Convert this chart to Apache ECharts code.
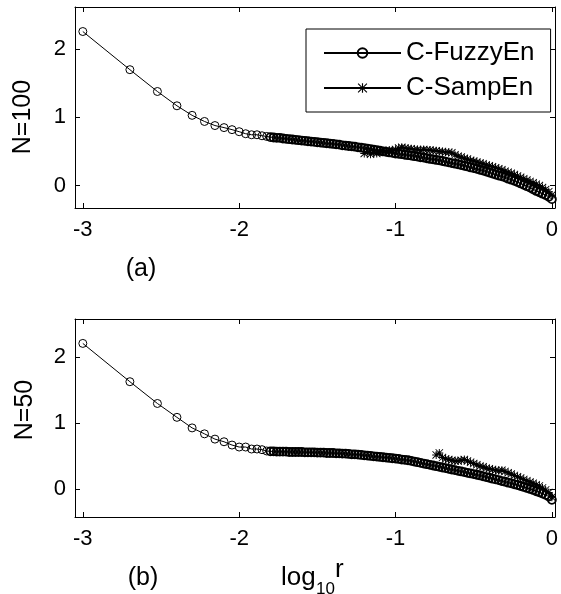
<!DOCTYPE html>
<html>
<head>
<meta charset="utf-8">
<script src="https://cdn.jsdelivr.net/npm/echarts@6/dist/echarts.min.js"></script>
<style>
  html, body { margin: 0; padding: 0; background: #fff; }
  #chart { width: 561px; height: 594px; }
</style>
</head>
<body>
<div id="chart"></div>
<script>
// r values of the first, well separated markers
const rHead = [0.001, 0.002, 0.003, 0.004, 0.005, 0.006, 0.007, 0.008, 0.009, 0.010, 0.011, 0.012, 0.013, 0.014, 0.015];

// log10 r where the markers merge into a band
const bandLogR = [
  -1.80, -1.78, -1.76, -1.74, -1.72, -1.70, -1.68, -1.66, -1.64, -1.62,
  -1.60, -1.58, -1.56, -1.54, -1.52, -1.50, -1.48, -1.46, -1.44, -1.42,
  -1.40, -1.38, -1.36, -1.34, -1.32, -1.30, -1.28, -1.26, -1.24, -1.22,
  -1.20, -1.18, -1.16, -1.14, -1.12, -1.10, -1.08, -1.06, -1.04, -1.02,
  -1.00, -0.98, -0.96, -0.94, -0.92, -0.90, -0.88, -0.86, -0.84, -0.82,
  -0.80, -0.78, -0.76, -0.74, -0.72, -0.70, -0.68, -0.66, -0.64, -0.62,
  -0.60, -0.58, -0.56, -0.54, -0.52, -0.50, -0.48, -0.46, -0.44, -0.42,
  -0.40, -0.38, -0.36, -0.34, -0.32, -0.30, -0.28, -0.26, -0.24, -0.22,
  -0.20, -0.18, -0.16, -0.14, -0.12, -0.10, -0.08, -0.06, -0.04, -0.02,
  0.00
];

// (a) N=100
const fuzzyHeadA = [2.26, 1.70, 1.38, 1.17, 1.03, 0.94, 0.88, 0.85, 0.82, 0.79, 0.76, 0.745, 0.745, 0.73, 0.72];
const fuzzyBandA = [
  0.71, 0.705, 0.70, 0.70, 0.69, 0.685, 0.68, 0.675, 0.67, 0.665,
  0.66, 0.655, 0.65, 0.645, 0.64, 0.635, 0.63, 0.625, 0.62, 0.615,
  0.61, 0.605, 0.60, 0.59, 0.585, 0.58, 0.575, 0.57, 0.56, 0.555,
  0.55, 0.54, 0.535, 0.525, 0.52, 0.51, 0.50, 0.495, 0.485, 0.48,
  0.47, 0.465, 0.46, 0.45, 0.445, 0.44, 0.43, 0.425, 0.415, 0.41,
  0.40, 0.39, 0.385, 0.375, 0.37, 0.36, 0.35, 0.34, 0.33, 0.32,
  0.31, 0.30, 0.29, 0.28, 0.265, 0.255, 0.245, 0.23, 0.22, 0.205,
  0.19, 0.175, 0.16, 0.145, 0.135, 0.12, 0.10, 0.085, 0.07, 0.05,
  0.03, 0.01, -0.01, -0.03, -0.055, -0.08, -0.10, -0.12, -0.14, -0.165,
  -0.20
];
const sampBandA = [
  0.47, 0.50, 0.46, 0.49, 0.47, 0.50, 0.51, 0.49, 0.52, 0.51,
  0.53, 0.55, 0.56, 0.55, 0.54, 0.54, 0.53, 0.53, 0.52, 0.53,
  0.52, 0.52, 0.51, 0.51, 0.50, 0.50, 0.49, 0.49, 0.48, 0.45,
  0.43, 0.42, 0.40, 0.39, 0.37, 0.36, 0.345, 0.33, 0.32, 0.30,
  0.29, 0.275, 0.26, 0.245, 0.23, 0.21, 0.195, 0.18, 0.16, 0.14,
  0.12, 0.10, 0.08, 0.06, 0.04, 0.02, 0.00, -0.03, -0.06, -0.09,
  -0.14
];

// (b) N=50
const fuzzyHeadB = [2.21, 1.63, 1.30, 1.09, 0.93, 0.84, 0.76, 0.72, 0.67, 0.64, 0.64, 0.61, 0.61, 0.60, 0.58];
const fuzzyBandB = [
  0.575, 0.575, 0.57, 0.57, 0.57, 0.57, 0.565, 0.565, 0.565, 0.565,
  0.565, 0.56, 0.56, 0.56, 0.56, 0.555, 0.555, 0.555, 0.55, 0.55,
  0.55, 0.545, 0.545, 0.54, 0.54, 0.535, 0.53, 0.53, 0.525, 0.52,
  0.515, 0.51, 0.505, 0.50, 0.495, 0.49, 0.485, 0.48, 0.475, 0.47,
  0.465, 0.46, 0.45, 0.445, 0.44, 0.43, 0.42, 0.41, 0.40, 0.39,
  0.38, 0.37, 0.36, 0.35, 0.34, 0.33, 0.32, 0.31, 0.30, 0.29,
  0.28, 0.27, 0.26, 0.25, 0.24, 0.23, 0.22, 0.21, 0.195, 0.185,
  0.175, 0.16, 0.15, 0.14, 0.125, 0.115, 0.10, 0.09, 0.075, 0.065,
  0.05, 0.035, 0.02, 0.005, -0.01, -0.03, -0.045, -0.065, -0.085, -0.11,
  -0.16
];
const sampBandB = [
  0.52, 0.55, 0.48, 0.46, 0.45, 0.44, 0.43, 0.43, 0.44, 0.45,
  0.43, 0.41, 0.39, 0.37, 0.35, 0.34, 0.32, 0.31, 0.30, 0.29,
  0.28, 0.29, 0.27, 0.25, 0.23, 0.21, 0.19, 0.17, 0.15, 0.13,
  0.11, 0.09, 0.07, 0.05, 0.02, -0.01, -0.05, -0.12
];

const xTicks = [-3, -2, -1, 0];
const yTicks = [0, 1, 2];

const STAR = 'path://M4.4 0L5.6 0L5.6 10L4.4 10Z M0 4.4L10 4.4L10 5.6L0 5.6Z M0.8 0L10 9.2L9.2 10L0 0.8Z M9.2 0L10 0.8L0.8 10L0 9.2Z';
const FONT = 'Liberation Sans, Arial, Helvetica, sans-serif';

function headPoints(vals) {
  return vals.map((v, i) => [Math.log10(rHead[i]), v]);
}
function bandPoints(vals, style) {
  const xs = bandLogR.slice(bandLogR.length - vals.length);
  return vals.map((v, i) => ({ value: [xs[i], v], itemStyle: style }));
}

function fuzzySeries(name, xi, yi, head, band) {
  return {
    name,
    type: 'line',
    xAxisIndex: xi,
    yAxisIndex: yi,
    data: headPoints(head).concat(bandPoints(band, { borderWidth: 1.8 })),
    symbol: 'circle',
    symbolSize: 8,
    showAllSymbol: true,
    lineStyle: { color: '#000', width: 1 },
    itemStyle: { color: 'transparent', borderColor: '#000', borderWidth: 1 },
    emphasis: { disabled: true }
  };
}
function sampSeries(name, xi, yi, band) {
  return {
    name,
    type: 'line',
    xAxisIndex: xi,
    yAxisIndex: yi,
    data: bandPoints(band, {}),
    symbol: STAR,
    symbolSize: 8,
    showAllSymbol: true,
    lineStyle: { color: '#000', width: 1.8 },
    itemStyle: { color: '#000' },
    emphasis: { disabled: true }
  };
}

function xAxisOf(gridIndex, position, showLabels) {
  return {
    type: 'value',
    gridIndex,
    position,
    min: -3.05,
    max: 0.02,
    axisLine: { show: true, onZero: false, lineStyle: { color: '#000', width: 1 } },
    axisTick: { show: true, inside: true, length: 5, customValues: xTicks, lineStyle: { color: '#000' } },
    axisLabel: { show: showLabels, customValues: xTicks, color: '#000', fontSize: 22, fontFamily: FONT, margin: 11 },
    splitLine: { show: false }
  };
}
function yAxisOf(gridIndex, position, min, max, showLabels) {
  return {
    type: 'value',
    gridIndex,
    position,
    min,
    max,
    axisLine: { show: true, onZero: false, lineStyle: { color: '#000', width: 1 } },
    axisTick: { show: true, inside: true, length: 5, customValues: yTicks, lineStyle: { color: '#000' } },
    axisLabel: { show: showLabels, customValues: yTicks, color: '#000', fontSize: 22, fontFamily: FONT, margin: 9 },
    splitLine: { show: false }
  };
}

const chart = echarts.init(document.getElementById('chart'), null, { renderer: 'canvas' });

const option = {
  animation: false,
  backgroundColor: '#fff',
  grid: [
    { left: 75, top: 7, width: 481, height: 201 },
    { left: 75, top: 319, width: 481, height: 198 }
  ],
  xAxis: [
    xAxisOf(0, 'bottom', true),
    xAxisOf(0, 'top', false),
    xAxisOf(1, 'bottom', true),
    xAxisOf(1, 'top', false)
  ],
  yAxis: [
    yAxisOf(0, 'left', -0.33, 2.62, true),
    yAxisOf(0, 'right', -0.33, 2.62, false),
    yAxisOf(1, 'left', -0.42, 2.58, true),
    yAxisOf(1, 'right', -0.42, 2.58, false)
  ],
  legend: {
    data: ['C-FuzzyEn', 'C-SampEn'],
    orient: 'vertical',
    left: 306,
    top: 29,
    padding: [11, 16, 11, 17],
    itemGap: 9,
    itemWidth: 77,
    itemHeight: 12,
    backgroundColor: '#fff',
    borderColor: '#000',
    borderWidth: 1,
    borderRadius: 0,
    selectedMode: false,
    textStyle: { color: '#000', fontSize: 26, fontFamily: FONT }
  },
  graphic: [
    { type: 'text', x: 23, y: 117, rotation: Math.PI / 2,
      style: { text: 'N=100', font: '25px ' + FONT, fill: '#000', textAlign: 'center', textVerticalAlign: 'middle' } },
    { type: 'text', x: 25, y: 410, rotation: Math.PI / 2,
      style: { text: 'N=50', font: '25px ' + FONT, fill: '#000', textAlign: 'center', textVerticalAlign: 'middle' } },
    { type: 'text', x: 141, y: 269,
      style: { text: '(a)', font: '25px ' + FONT, fill: '#000', textAlign: 'center', textVerticalAlign: 'middle' } },
    { type: 'text', x: 143, y: 578,
      style: { text: '(b)', font: '25px ' + FONT, fill: '#000', textAlign: 'center', textVerticalAlign: 'middle' } },
    { type: 'text', x: 281, y: 591,
      style: { text: 'log', font: '26px ' + FONT, fill: '#000', textAlign: 'left', textVerticalAlign: 'bottom' } },
    { type: 'text', x: 316, y: 598,
      style: { text: '10', font: '17px ' + FONT, fill: '#000', textAlign: 'left', textVerticalAlign: 'bottom' } },
    { type: 'text', x: 335, y: 583,
      style: { text: 'r', font: '26px ' + FONT, fill: '#000', textAlign: 'left', textVerticalAlign: 'bottom' } }
  ],
  series: [
    fuzzySeries('C-FuzzyEn', 0, 0, fuzzyHeadA, fuzzyBandA),
    sampSeries('C-SampEn', 0, 0, sampBandA),
    fuzzySeries('C-FuzzyEn', 2, 2, fuzzyHeadB, fuzzyBandB),
    sampSeries('C-SampEn', 2, 2, sampBandB)
  ]
};

chart.setOption(option);
</script>
</body>
</html>
